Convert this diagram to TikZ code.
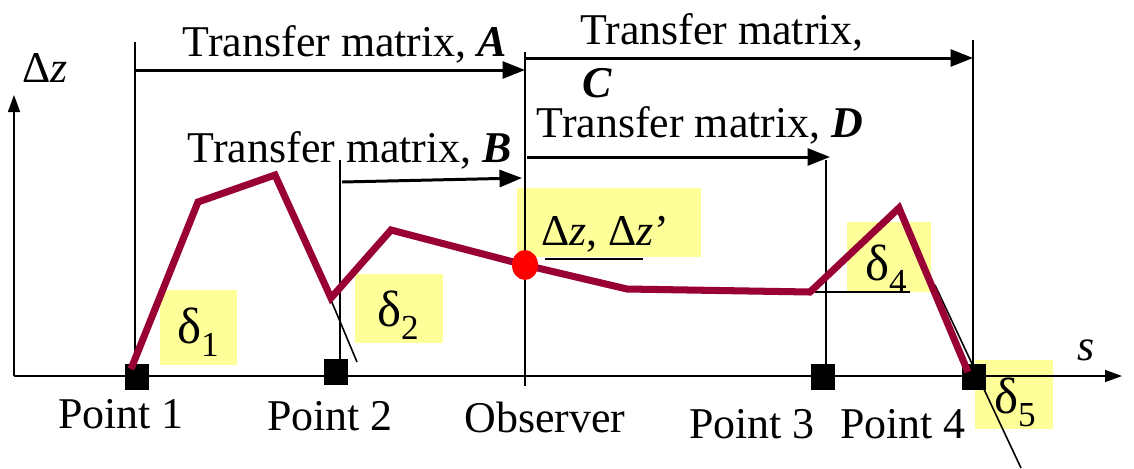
\documentclass[tikz,border=0pt]{standalone}
\usepackage{fontspec}
\setmainfont{Liberation Serif}
\usetikzlibrary{arrows.meta}
\definecolor{maroon}{RGB}{153,0,51}
\definecolor{hlyellow}{RGB}{255,255,153}
\newcommand{\dlt}[1]{{\fontsize{29}{30}\selectfont δ}\raisebox{-0.3em}{\fontsize{20}{22}\selectfont #1}}

\begin{document}
\begin{tikzpicture}[x=0.02cm, y=-0.02cm,
  every node/.style={font=\fontsize{25}{30}\selectfont, inner sep=0pt},
  lbl/.style={anchor=base},
  guide/.style={line width=0.9pt},
  matarrow/.style={line width=1.7pt, -{Triangle[length=4.5mm, width=3.4mm]}},
  axisarrow/.style={line width=0.9pt, -{Triangle[length=3.4mm, width=2.4mm]}},
  hlbox/.style={fill=hlyellow, draw=none},
  ptmark/.style={fill=black, minimum width=0.48cm, minimum height=0.52cm}]
\useasboundingbox (0,0) rectangle (1134,468);

% highlight boxes
\fill[hlbox] (160,290) rectangle (237,365);
\fill[hlbox] (355,274) rectangle (443,343);
\fill[hlbox] (517,188) rectangle (701,257);
\fill[hlbox] (847,222) rectangle (931,292);
\fill[hlbox] (975,360) rectangle (1053,429);

% axes
\coordinate (O) at (14,376);
\coordinate (xend) at (1122,376);
\coordinate (yend) at (14,95);
\draw[axisarrow] (O) -- (xend);
\draw[axisarrow] (O) -- (yend);
\node[lbl] (dzaxis) at (45,82) {Δ\textit{z}};
\node[lbl] (saxis) at (1086,360) {\textit{s}};

% vertical guides
\coordinate (v1t) at (135,42);   \coordinate (v1b) at (135,376);
\coordinate (v2t) at (340,160);  \coordinate (v2b) at (340,362);
\coordinate (vot) at (525,52);   \coordinate (vob) at (525,386);
\coordinate (v3t) at (826,160);  \coordinate (v3b) at (826,368);
\coordinate (v4t) at (973,40);   \coordinate (v4b) at (973,376);
\foreach \t/\b in {v1t/v1b, v2t/v2b, vot/vob, v3t/v3b, v4t/v4b}
  \draw[guide] (\t) -- (\b);

% transfer matrix arrows
\coordinate (As) at (135,70);  \coordinate (Ae) at (525,70);
\coordinate (Cs) at (525,58);  \coordinate (Ce) at (973,58);
\coordinate (Bs) at (342,182); \coordinate (Be) at (522,178);
\coordinate (Ds) at (527,157); \coordinate (De) at (830,157);
\draw[matarrow] (As) -- (Ae);
\draw[matarrow] (Cs) -- (Ce);
\draw[matarrow] (Bs) -- (Be);
\draw[matarrow] (Ds) -- (De);
\node[lbl] (labA) at (345,56) {Transfer matrix, \textbf{\textit{A}}};
\node[lbl] (labC1) at (722,44) {Transfer matrix,};
\node[lbl] (labC2) at (597,97) {\textbf{\textit{C}}};
\node[lbl] (labB) at (350,162) {Transfer matrix, \textbf{\textit{B}}};
\node[lbl] (labD) at (700,137) {Transfer matrix, \textbf{\textit{D}}};

% point markers
\node[ptmark] (p1) at (137,377) {};
\node[ptmark] (p2) at (336,372) {};
\node[ptmark] (p3) at (823,377) {};
\node[ptmark] (p4) at (974,377) {};
\node[lbl] (np1) at (121,428) {Point 1};
\node[lbl] (np2) at (330,430) {Point 2};
\node[lbl] (nobs) at (545,432) {Observer};
\node[lbl] (np3) at (752,438) {Point 3};
\node[lbl] (np4) at (903,438) {Point 4};

% tangent and reference lines
\coordinate (t2a) at (331,300); \coordinate (t2b) at (357,362);
\coordinate (t4a) at (815,292); \coordinate (t4b) at (910,292);
\coordinate (tza) at (545,259); \coordinate (tzb) at (643,259);
\coordinate (t5a) at (935,285); \coordinate (t5b) at (1021,468);
\draw[guide] (t2a) -- (t2b);
\draw[guide] (t4a) -- (t4b);
\draw[guide] (tza) -- (tzb);
\draw[guide] (t5a) -- (t5b);

% trajectory
\coordinate (c0) at (131,369);
\coordinate (c1) at (198,202);
\coordinate (c2) at (275,175);
\coordinate (c3) at (331,298);
\coordinate (c4) at (391,230);
\coordinate (obs) at (525,265);
\coordinate (c6) at (627,289);
\coordinate (c7) at (810,292);
\coordinate (c8) at (899,208);
\coordinate (c9) at (968,372);
\draw[maroon, line width=4pt] (c0) -- (c1) -- (c2) -- (c3) -- (c4) -- (obs)
  -- (c6) -- (c7) -- (c8) -- (c9);
\fill[red] (obs) ellipse (0.26cm and 0.3cm);

% labels in highlight boxes
\node[lbl] (d1) at (198,343) {\dlt{1}};
\node[lbl] (d2) at (398,326) {\dlt{2}};
\node[lbl] (dz) at (605,245) {Δ\textit{z}, Δ\textit{z}’};
\node[lbl] (d4) at (886,280) {\dlt{4}};
\node[lbl] (d5) at (1015,413) {\dlt{5}};
\end{tikzpicture}
\end{document}
